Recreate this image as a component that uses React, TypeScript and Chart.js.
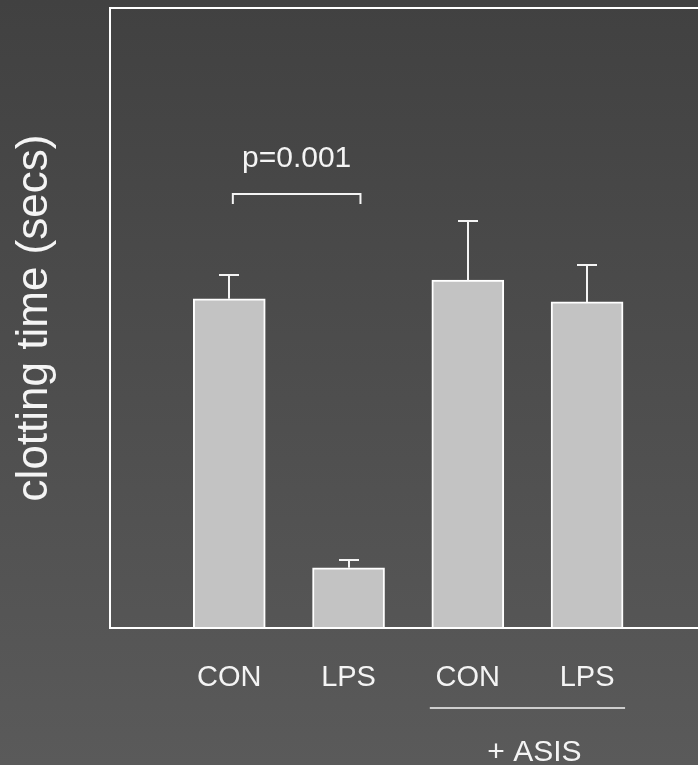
import React, { useEffect, useRef } from 'react';
import { Chart, registerables } from 'chart.js';

Chart.register(...registerables);

// ---- data ----
const categories = ['CON', 'LPS', 'CON', 'LPS'];
const clottingTime = [53.1, 9.7, 56.1, 52.6];
const errorUpper = [3.8, 1.3, 9.5, 5.9];
const yTitle = 'clotting time (secs)';
const groupLabel = '+ ASIS';
const groupFirst = 2; // 0-based index of first bar in the +ASIS group
const groupLast = 3;
const pValueText = 'p=0.001';
const sigFrom = 1.03; // x data units
const sigTo = 2.1;
const sigLevel = 70; // y data units
const yMin = 0;
const yMax = 100;
const xMin = 0;
const xMax = 4.93;

const FONT = '"Liberation Sans", Arial, sans-serif';
const WHITE = '#f4f4f4';

const bgPlugin = {
  id: 'bgGradient',
  beforeDraw(chart: any) {
    const { ctx, width, height } = chart;
    const g = ctx.createLinearGradient(0, 0, 0, height);
    g.addColorStop(0, '#414141');
    g.addColorStop(1, '#5a5a5a');
    ctx.save();
    ctx.fillStyle = g;
    ctx.fillRect(0, 0, width, height);
    ctx.restore();
  },
};

const errorBarPlugin = {
  id: 'errorBars',
  afterDatasetsDraw(chart: any) {
    const { ctx } = chart;
    const yS = chart.scales.y;
    const meta = chart.getDatasetMeta(0);
    ctx.save();
    ctx.strokeStyle = WHITE;
    ctx.lineWidth = 2;
    meta.data.forEach((bar: any, i: number) => {
      const x = Math.round(bar.x);
      const top = bar.y;
      const ye = Math.round(yS.getPixelForValue(clottingTime[i] + errorUpper[i]));
      ctx.beginPath();
      ctx.moveTo(x, top);
      ctx.lineTo(x, ye);
      ctx.moveTo(x - 10, ye);
      ctx.lineTo(x + 10, ye);
      ctx.stroke();
    });
    ctx.restore();
  },
};

const annotationPlugin = {
  id: 'annotations',
  afterDraw(chart: any) {
    const { ctx, chartArea } = chart;
    const xS = chart.scales.x;
    const yS = chart.scales.y;
    const meta = chart.getDatasetMeta(0);
    ctx.save();
    ctx.setTransform(1, 0, 0, 1, 0, 0);
    ctx.strokeStyle = WHITE;
    ctx.fillStyle = WHITE;
    ctx.lineWidth = 2;

    // significance bracket
    const bx1 = xS.getPixelForValue(sigFrom);
    const bx2 = xS.getPixelForValue(sigTo);
    const by = Math.round(yS.getPixelForValue(sigLevel));
    ctx.beginPath();
    ctx.moveTo(bx1, by + 10);
    ctx.lineTo(bx1, by);
    ctx.lineTo(bx2, by);
    ctx.lineTo(bx2, by + 10);
    ctx.stroke();
    ctx.font = 'normal normal 30px ' + FONT;
    ctx.textAlign = 'center';
    ctx.textBaseline = 'alphabetic';
    ctx.fillText(pValueText, (bx1 + bx2) / 2, by - 27);

    // group underline and label
    const b1: any = meta.data[groupFirst];
    const b2: any = meta.data[groupLast];
    const ux1 = b1.x - b1.width / 2 - 2;
    const ux2 = b2.x + b2.width / 2 + 2;
    const uy = chartArea.bottom + 80;
    ctx.lineWidth = 1.5;
    ctx.beginPath();
    ctx.moveTo(ux1, uy);
    ctx.lineTo(ux2, uy);
    ctx.stroke();
    ctx.font = 'normal normal 30px ' + FONT;
    ctx.fillText(groupLabel, (ux1 + ux2) / 2 + 7, chartArea.bottom + 133);
    ctx.restore();
  },
};

export default function App() {
  const canvasRef = useRef<HTMLCanvasElement | null>(null);

  useEffect(() => {
    if (!canvasRef.current) return;
    const chart = new Chart(canvasRef.current, {
      type: 'bar',
      data: {
        datasets: [
          {
            data: clottingTime.map((v, i) => ({ x: i + 1, y: v })),
            backgroundColor: '#c3c3c3',
            borderColor: '#ffffff',
            borderWidth: 2,
            barThickness: 72,
          },
        ],
      },
      options: {
        responsive: false,
        animation: false,
        layout: { padding: { top: 8, right: 0, left: 0, bottom: 0 } },
        plugins: { legend: { display: false }, tooltip: { enabled: false } },
        scales: {
          x: {
            type: 'linear',
            offset: false,
            min: xMin,
            max: xMax,
            grid: { display: false, drawTicks: false, offset: false },
            border: { display: true, color: '#ffffff', width: 2 },
            ticks: {
              stepSize: 1,
              autoSkip: false,
              maxRotation: 0,
              padding: 33,
              color: WHITE,
              font: { family: FONT, size: 29 },
              callback: (v: any) => {
                const n = Number(v);
                return Number.isInteger(n) && n >= 1 && n <= categories.length ? categories[n - 1] : '';
              },
            },
            afterFit: (s: any) => {
              s.height = 765 - 8 - 620;
              s.paddingLeft = 0;
              s.paddingRight = 0;
            },
          },
          y: {
            min: yMin,
            max: yMax,
            ticks: { display: false, stepSize: 50 },
            grid: {
              drawTicks: false,
              lineWidth: 2,
              color: (c: any) => (c.tick && c.tick.value === yMax ? '#ffffff' : 'rgba(0,0,0,0)'),
            },
            border: { display: true, color: '#ffffff', width: 2 },
            title: {
              display: true,
              text: yTitle,
              color: WHITE,
              font: { family: FONT, size: 44 },
              padding: { top: 8, bottom: 0 },
            },
            afterFit: (s: any) => {
              s.width = 110;
            },
          },
        },
      },
      plugins: [bgPlugin, errorBarPlugin, annotationPlugin],
    } as any);
    return () => chart.destroy();
  }, []);

  return (
    <div style={{ position: 'absolute', left: 0, top: 0, width: 698, height: 765 }}>
      <canvas ref={canvasRef} width={698} height={765} />
    </div>
  );
}
